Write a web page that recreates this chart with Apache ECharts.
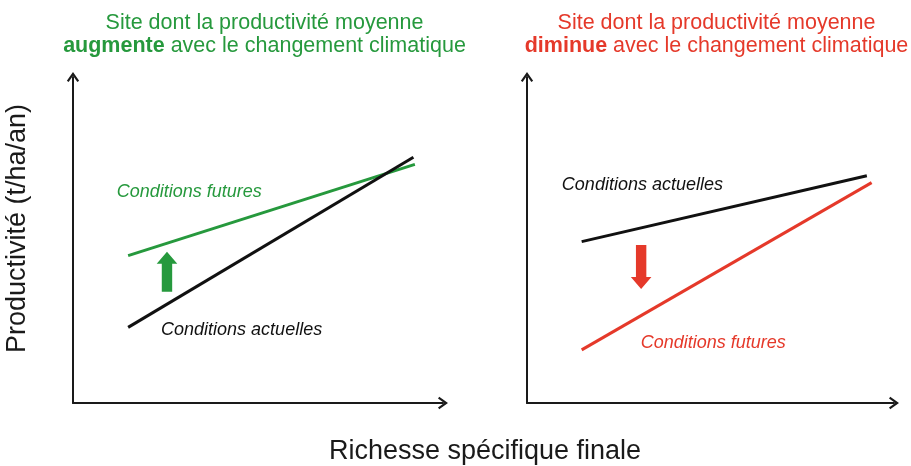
<!DOCTYPE html>
<html>
<head>
<meta charset="utf-8">
<script src="https://cdn.jsdelivr.net/npm/echarts@6/dist/echarts.min.js"></script>
<style>html,body{margin:0;padding:0;background:#fff}#c{width:911px;height:466px}</style>
</head>
<body>
<div id="c"></div>
<script>
// ---- Data (schematic values, axis range 0-100) ----
// Left panel: site where productivity increases
const leftCurrent = [[14.9, 23.2], [92.0, 75.4]];
const leftFuture  = [[14.9, 45.2], [92.4, 73.2]];
const leftArrow   = [[25.4, 34.1, 46.4]];           // x, from, to
// Right panel: site where productivity decreases
const rightCurrent = [[14.9, 49.5], [92.6, 69.7]];
const rightFuture  = [[14.9, 16.3], [93.9, 67.6]];
const rightArrow   = [[31.1, 48.5, 35.0]];
// Annotation anchors (data coordinates) and texts
const leftNotes  = [[11.8, 64.8], [23.8, 22.4]];
const leftNoteTexts = ['Conditions futures', 'Conditions actuelles'];
const rightNotes = [[9.5, 66.9], [31.0, 18.4]];
const rightNoteTexts = ['Conditions actuelles', 'Conditions futures'];
// Titles
const leftTitleLine1 = 'Site dont la productivité moyenne';
const leftTitleBold = 'augmente';
const rightTitleBold = 'diminue';
const titleRest = ' avec le changement climatique';
const xTitle = 'Richesse spécifique finale';
const yTitle = 'Productivité (t/ha/an)';

const GREEN = '#26993d';
const RED = '#e5392a';
const BLACK = '#111111';
const FONT = '"Liberation Sans", Arial, sans-serif';

const chart = echarts.init(document.getElementById('c'));

const chevron = 'path://M0,10 L7,0 L14,10 L12,11.4 L7,4.3 L2,11.4 Z';

function axisPair(gridIndex) {
  const axisLine = {
    show: true, onZero: false,
    symbol: ['none', chevron], symbolSize: [14, 10],
    lineStyle: { color: '#1a1a1a', width: 2 }
  };
  return {
    x: { type: 'value', gridIndex, min: 0, max: 100, axisLine,
         axisTick: { show: false }, axisLabel: { show: false }, splitLine: { show: false } },
    y: { type: 'value', gridIndex, min: 0, max: 100, axisLine,
         axisTick: { show: false }, axisLabel: { show: false }, splitLine: { show: false } }
  };
}
const a0 = axisPair(0), a1 = axisPair(1);

function lineSeries(idx, data, color) {
  return { type: 'line', xAxisIndex: idx, yAxisIndex: idx, data, symbol: 'none',
           lineStyle: { color, width: 3 }, silent: true, animation: false, z: 3 };
}

function arrowSeries(idx, data, color) {
  return {
    type: 'custom', xAxisIndex: idx, yAxisIndex: idx, data, silent: true, animation: false, z: 4,
    renderItem: function (params, api) {
      const p0 = api.coord([api.value(0), api.value(1)]);
      const p1 = api.coord([api.value(0), api.value(2)]);
      const dir = p1[1] < p0[1] ? -1 : 1;
      const bw = 5.2, hw = 10.3, hl = 12;
      const x = p0[0];
      const hb = p1[1] - dir * hl;
      return {
        type: 'polygon',
        shape: { points: [
          [x - bw, p0[1]], [x + bw, p0[1]], [x + bw, hb], [x + hw, hb],
          [x, p1[1]], [x - hw, hb], [x - bw, hb]
        ] },
        style: { fill: color }
      };
    }
  };
}

function noteSeries(idx, data, texts, colors) {
  return {
    type: 'custom', xAxisIndex: idx, yAxisIndex: idx, data, silent: true, animation: false, z: 5,
    renderItem: function (params, api) {
      const p = api.coord([api.value(0), api.value(1)]);
      return {
        type: 'text', x: p[0], y: p[1],
        style: { text: texts[params.dataIndex], fill: colors[params.dataIndex],
                 fontSize: 18, fontStyle: 'italic', fontFamily: FONT,
                 align: 'left', verticalAlign: 'middle' }
      };
    }
  };
}

function titleGraphic(x, bold, color) {
  return {
    type: 'text', x, y: 34.5,
    style: {
      text: leftTitleLine1 + '\n{b|' + bold + '}' + titleRest,
      fill: color, fontSize: 21.5, fontFamily: FONT, lineHeight: 23,
      align: 'center', verticalAlign: 'middle',
      rich: { b: { fontWeight: 'bold', fill: color, fontSize: 21.5, fontFamily: FONT, lineHeight: 23 } }
    }
  };
}

chart.setOption({
  animation: false,
  backgroundColor: '#ffffff',
  grid: [
    { left: 73, top: 77, width: 370, height: 326 },
    { left: 527, top: 77, width: 367, height: 326 }
  ],
  xAxis: [a0.x, a1.x],
  yAxis: [a0.y, a1.y],
  series: [
    lineSeries(0, leftFuture, GREEN),
    lineSeries(0, leftCurrent, BLACK),
    arrowSeries(0, leftArrow, GREEN),
    noteSeries(0, leftNotes, leftNoteTexts, [GREEN, BLACK]),
    lineSeries(1, rightCurrent, BLACK),
    lineSeries(1, rightFuture, RED),
    arrowSeries(1, rightArrow, RED),
    noteSeries(1, rightNotes, rightNoteTexts, [BLACK, RED])
  ],
  graphic: [
    titleGraphic(264.5, leftTitleBold, GREEN),
    titleGraphic(716.5, rightTitleBold, RED),
    { type: 'text', x: 485, y: 452,
      style: { text: xTitle, fill: '#1a1a1a', fontSize: 27, fontFamily: FONT, align: 'center', verticalAlign: 'middle' } },
    { type: 'text', x: 17.5, y: 228.5, rotation: Math.PI / 2,
      style: { text: yTitle, fill: '#1a1a1a', fontSize: 27, fontFamily: FONT, align: 'center', verticalAlign: 'middle' } }
  ]
});
</script>
</body>
</html>
